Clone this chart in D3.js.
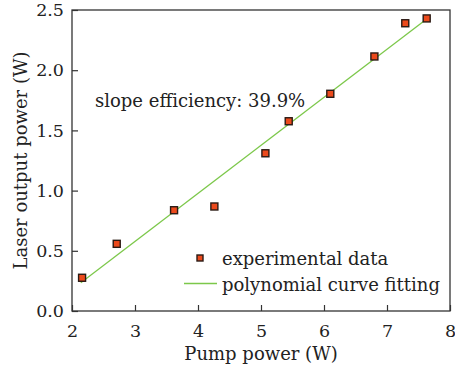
<!DOCTYPE html>
<html>
<head>
<meta charset="utf-8">
<script src="https://cdn.jsdelivr.net/npm/d3@7"></script>
<style>
  body { margin: 0; background: #fff; }
  text { font-family: "DejaVu Serif", serif; fill: #222; }
</style>
</head>
<body>
<div id="chart"></div>
<script>
// measured points
const pumpPower = [2.16, 2.71, 3.62, 4.26, 5.07, 5.44, 6.10, 6.80, 7.29, 7.63];
const outputPower = [0.276, 0.558, 0.837, 0.868, 1.31, 1.576, 1.804, 2.114, 2.39, 2.43];
// linear fit end points
const fitX = [2.14, 7.63];
const fitY = [0.234, 2.425];
const xTicks = [2, 3, 4, 5, 6, 7, 8];
const yTicks = [0, 0.5, 1.0, 1.5, 2.0, 2.5];

const width = 455, height = 371;
const margin = {top: 10, right: 5, bottom: 60, left: 72};

const svg = d3.select("#chart").append("svg")
  .attr("width", width)
  .attr("height", height);

const x = d3.scaleLinear().domain([2, 8]).range([margin.left, width - margin.right]);
const y = d3.scaleLinear().domain([0, 2.5]).range([height - margin.bottom, margin.top]);

// frame
svg.append("rect")
  .attr("x", margin.left).attr("y", margin.top)
  .attr("width", x(8) - x(2)).attr("height", y(0) - y(2.5))
  .attr("fill", "none").attr("stroke", "#333").attr("stroke-width", 1.3);

// x axis
const xAxis = svg.append("g")
  .attr("transform", "translate(0," + y(0) + ")")
  .call(d3.axisBottom(x).tickValues(xTicks).tickSizeInner(-6).tickSizeOuter(0).tickPadding(14).tickFormat(d3.format("d")));
xAxis.select(".domain").remove();
xAxis.selectAll("line").attr("stroke", "#333").attr("stroke-width", 1.2);
xAxis.selectAll("text").style("font-size", "17.5px").attr("fill", "#222");

// y axis
const yAxis = svg.append("g")
  .attr("transform", "translate(" + x(2) + ",0)")
  .call(d3.axisLeft(y).tickValues(yTicks).tickSizeInner(-6).tickSizeOuter(0).tickPadding(8).tickFormat(d3.format(".1f")));
yAxis.select(".domain").remove();
yAxis.selectAll("line").attr("stroke", "#333").attr("stroke-width", 1.2);
yAxis.selectAll("text").style("font-size", "17.5px").attr("fill", "#222");

// labels
svg.append("text")
  .attr("x", (x(2) + x(8)) / 2).attr("y", 360)
  .attr("text-anchor", "middle").style("font-size", "18px")
  .text("Pump power (W)");

svg.append("text")
  .attr("transform", "translate(27," + (y(0) + y(2.5)) / 2 + ") rotate(-90)")
  .attr("text-anchor", "middle").style("font-size", "18px")
  .text("Laser output power (W)");

// fit line
const line = d3.line().x(d => x(d[0])).y(d => y(d[1]));
svg.append("path")
  .datum(d3.zip(fitX, fitY))
  .attr("d", line)
  .attr("fill", "none").attr("stroke", "#7cc84a").attr("stroke-width", 1.3);

// points
svg.selectAll("rect.pt")
  .data(d3.zip(pumpPower, outputPower))
  .enter().append("rect")
  .attr("class", "pt")
  .attr("x", d => x(d[0]) - 3.5).attr("y", d => y(d[1]) - 3.5)
  .attr("width", 7).attr("height", 7)
  .attr("fill", "#ec4a1c").attr("stroke", "#2a1a14").attr("stroke-width", 1.4);

// annotation
svg.append("text")
  .attr("x", 95).attr("y", 107)
  .style("font-size", "18px")
  .text("slope efficiency: 39.9%");

// legend
svg.append("rect")
  .attr("x", 197).attr("y", 255).attr("width", 6).attr("height", 6)
  .attr("fill", "#ec4a1c").attr("stroke", "#2a1a14").attr("stroke-width", 1.4);
svg.append("text").attr("x", 222).attr("y", 265).style("font-size", "18px").text("experimental data");
svg.append("line")
  .attr("x1", 184).attr("x2", 217).attr("y1", 283.5).attr("y2", 283.5)
  .attr("stroke", "#7cc84a").attr("stroke-width", 1.3);
svg.append("text").attr("x", 222).attr("y", 291).style("font-size", "18px").text("polynomial curve fitting");
</script>
</body>
</html>
